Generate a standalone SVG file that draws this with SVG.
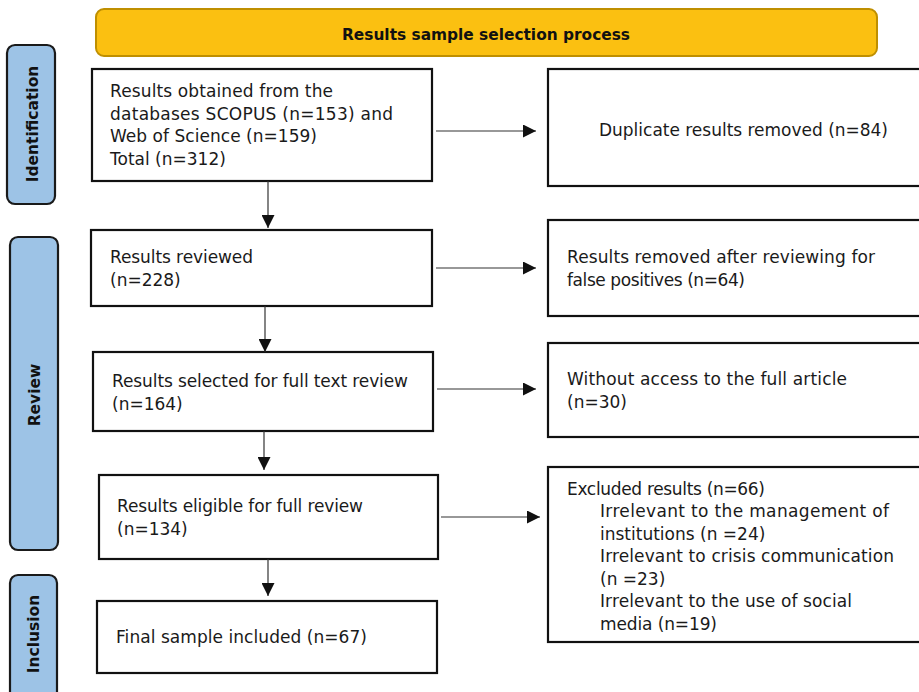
<svg xmlns="http://www.w3.org/2000/svg" width="919" height="692" viewBox="0 0 919 692">
<style>
.box{fill:#fff;stroke:#111;stroke-width:2.2}
.side{fill:#9DC3E6;stroke:#1a1a1a;stroke-width:2.2}
.t{font-family:"DejaVu Sans",sans-serif;font-size:17px;fill:#1a1a1a}
.sl{font-family:"DejaVu Sans",sans-serif;font-weight:bold;font-size:15.5px;fill:#111}
.hd{font-family:"DejaVu Sans",sans-serif;font-weight:bold;font-size:15px;fill:#111}
.ln{stroke:#333;stroke-width:1.2;fill:none}
</style>
<defs>
<marker id="ah" viewBox="0 0 10 10" refX="10" refY="5" markerWidth="13" markerHeight="13" markerUnits="userSpaceOnUse" orient="auto">
<path d="M0,0 L10,5 L0,10 Z" fill="#111"/>
</marker>
</defs>

<g id="header">
<rect x="96" y="9" width="781" height="47" rx="8" fill="#FBC011" stroke="#BF8F00" stroke-width="2"/>
<text class="hd" x="342" y="40" textLength="288" lengthAdjust="spacingAndGlyphs">Results sample selection process</text>
</g>

<g id="side-identification">
<rect class="side" x="7" y="45" width="48" height="159" rx="8"/>
<text class="sl" transform="translate(38,124) rotate(-90)" text-anchor="middle">Identification</text>
</g>
<g id="side-review">
<rect class="side" x="10" y="237" width="48" height="313" rx="8"/>
<text class="sl" transform="translate(40,395) rotate(-90)" text-anchor="middle">Review</text>
</g>
<g id="side-inclusion">
<rect class="side" x="10" y="575" width="47" height="130" rx="8"/>
<text class="sl" transform="translate(39,634) rotate(-90)" text-anchor="middle">Inclusion</text>
</g>

<g id="n-obtained">
<rect class="box" x="92" y="69" width="340" height="112"/>
<text class="t" x="110" y="97" textLength="223">Results obtained from the</text>
<text class="t" x="110" y="120" textLength="283">databases SCOPUS (n=153) and</text>
<text class="t" x="110" y="142" textLength="207">Web of Science (n=159)</text>
<text class="t" x="110" y="165">Total (n=312)</text>
</g>
<g id="n-duplicate">
<rect class="box" x="548" y="69" width="380" height="117"/>
<text class="t" x="599" y="136" textLength="289">Duplicate results removed (n=84)</text>
</g>

<g id="n-reviewed">
<rect class="box" x="91" y="230" width="341" height="76"/>
<text class="t" x="110" y="263" textLength="143">Results reviewed</text>
<text class="t" x="110" y="286">(n=228)</text>
</g>
<g id="n-falsepos">
<rect class="box" x="548" y="220" width="380" height="96"/>
<text class="t" x="567" y="263" textLength="308">Results removed after reviewing for</text>
<text class="t" x="567" y="286" textLength="178">false positives (n=64)</text>
</g>

<g id="n-selected">
<rect class="box" x="93" y="352" width="340" height="79"/>
<text class="t" x="112" y="387" textLength="296">Results selected for full text review</text>
<text class="t" x="112" y="410">(n=164)</text>
</g>
<g id="n-noaccess">
<rect class="box" x="548" y="343" width="380" height="94"/>
<text class="t" x="567" y="385" textLength="280">Without access to the full article</text>
<text class="t" x="567" y="408">(n=30)</text>
</g>

<g id="n-eligible">
<rect class="box" x="99" y="475" width="339" height="84"/>
<text class="t" x="117" y="512" textLength="246">Results eligible for full review</text>
<text class="t" x="117" y="535">(n=134)</text>
</g>
<g id="n-excluded">
<rect class="box" x="548" y="467" width="380" height="175"/>
<text class="t" x="567" y="495" textLength="198">Excluded results (n=66)</text>
<text class="t" x="600" y="517" textLength="289">Irrelevant to the management of</text>
<text class="t" x="600" y="540">institutions (n =24)</text>
<text class="t" x="600" y="562" textLength="294">Irrelevant to crisis communication</text>
<text class="t" x="600" y="585">(n =23)</text>
<text class="t" x="600" y="607" textLength="252">Irrelevant to the use of social</text>
<text class="t" x="600" y="630" textLength="117">media (n=19)</text>
</g>

<g id="n-final">
<rect class="box" x="97" y="601" width="340" height="72"/>
<text class="t" x="116" y="643" textLength="251">Final sample included (n=67)</text>
</g>

<g id="connectors">
<line class="ln" x1="436" y1="131" x2="536" y2="131" marker-end="url(#ah)"/>
<line class="ln" x1="436" y1="268" x2="536" y2="268" marker-end="url(#ah)"/>
<line class="ln" x1="437" y1="389" x2="536" y2="389" marker-end="url(#ah)"/>
<line class="ln" x1="441" y1="517" x2="540" y2="517" marker-end="url(#ah)"/>
<line class="ln" x1="268" y1="181" x2="268" y2="228" marker-end="url(#ah)"/>
<line class="ln" x1="265" y1="306" x2="265" y2="352" marker-end="url(#ah)"/>
<line class="ln" x1="264" y1="431" x2="264" y2="470" marker-end="url(#ah)"/>
<line class="ln" x1="268" y1="559" x2="268" y2="596" marker-end="url(#ah)"/>
</g>
</svg>
